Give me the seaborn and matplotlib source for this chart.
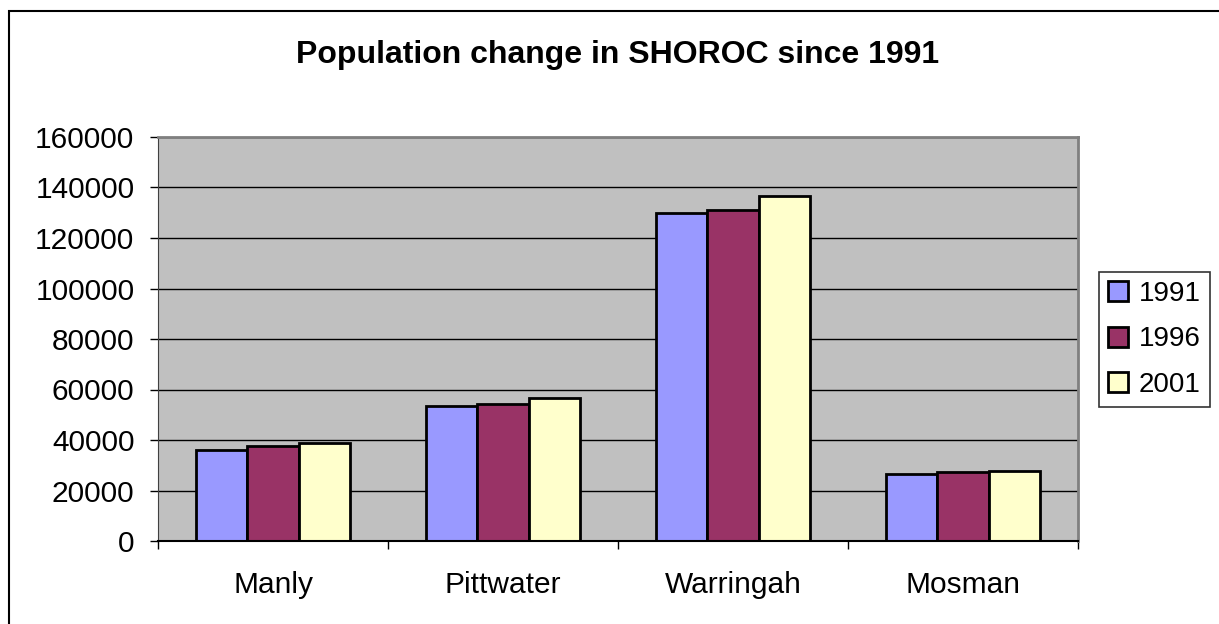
import seaborn as sns
import matplotlib.pyplot as plt
import pandas as pd
from matplotlib.patches import Rectangle

councils = ["Manly", "Pittwater", "Warringah", "Mosman"]
years = ["1991", "1996", "2001"]
pop_1991 = [36100, 53300, 129900, 26600]
pop_1996 = [37500, 54400, 131200, 27200]
pop_2001 = [39000, 56500, 136800, 27800]

df = pd.DataFrame({
    "council": councils * 3,
    "year": [y for y in years for _ in councils],
    "population": pop_1991 + pop_1996 + pop_2001,
})

sns.set_style("white")
plt.rcParams["font.family"] = ["Liberation Sans", "DejaVu Sans"]
plt.rcParams["text.color"] = "black"
plt.rcParams["xtick.color"] = "black"
plt.rcParams["ytick.color"] = "black"

W, H = 1219, 624
fig = plt.figure(figsize=(W / 100, H / 100), dpi=100)
ax = fig.add_axes([158 / W, 1 - 541 / H, 920 / W, 404 / H])

# outer chart frame (runs off the right/bottom of the picture)
fig.patches.append(Rectangle((9 / W, -0.1), 1.2, 1 - 11 / H + 0.1, transform=fig.transFigure,
                             fill=False, edgecolor="black", linewidth=1.5))

colors = ["#9999FF", "#993366", "#FFFFCC"]
sns.barplot(data=df, x="council", y="population", hue="year", palette=colors,
            width=0.667, edgecolor="black", linewidth=2, ax=ax, legend=True, saturation=1)

ax.set_facecolor("#C0C0C0")
ax.set_ylim(0, 160000)
ax.set_xlim(-0.5, 3.5)
ax.set_yticks(range(0, 160001, 20000))
ax.yaxis.grid(True, color="black", linewidth=1)
ax.set_axisbelow(True)
ax.set_xlabel("")
ax.set_ylabel("")
ax.set_title("Population change in SHOROC since 1991", fontsize=23, fontweight="bold", pad=53)

for s in ["top", "right"]:
    ax.spines[s].set_color("#808080")
    ax.spines[s].set_linewidth(2)
ax.spines["left"].set_color("#404040")
ax.spines["bottom"].set_color("black")
ax.spines["bottom"].set_linewidth(1.5)

ax.tick_params(axis="y", labelsize=21.5, length=6, width=1, direction="out", left=True, pad=11)
ax.set_xticks([-0.5, 0.5, 1.5, 2.5, 3.5], minor=True)
ax.tick_params(axis="x", which="minor", length=6, width=1, direction="out", bottom=True)
ax.tick_params(axis="x", which="major", length=0, labelsize=21.5, pad=21.5)

leg = ax.legend(loc="upper left", bbox_to_anchor=(1099 / W, 1 - 272 / H), bbox_transform=fig.transFigure,
                fontsize=20, frameon=True, fancybox=False, edgecolor="black",
                handlelength=0.72, handleheight=0.72, handletextpad=0.4, labelspacing=0.7,
                borderpad=0.32, borderaxespad=0)
leg.get_frame().set_linewidth(1.2)

fig.savefig("out.png", dpi=100)
